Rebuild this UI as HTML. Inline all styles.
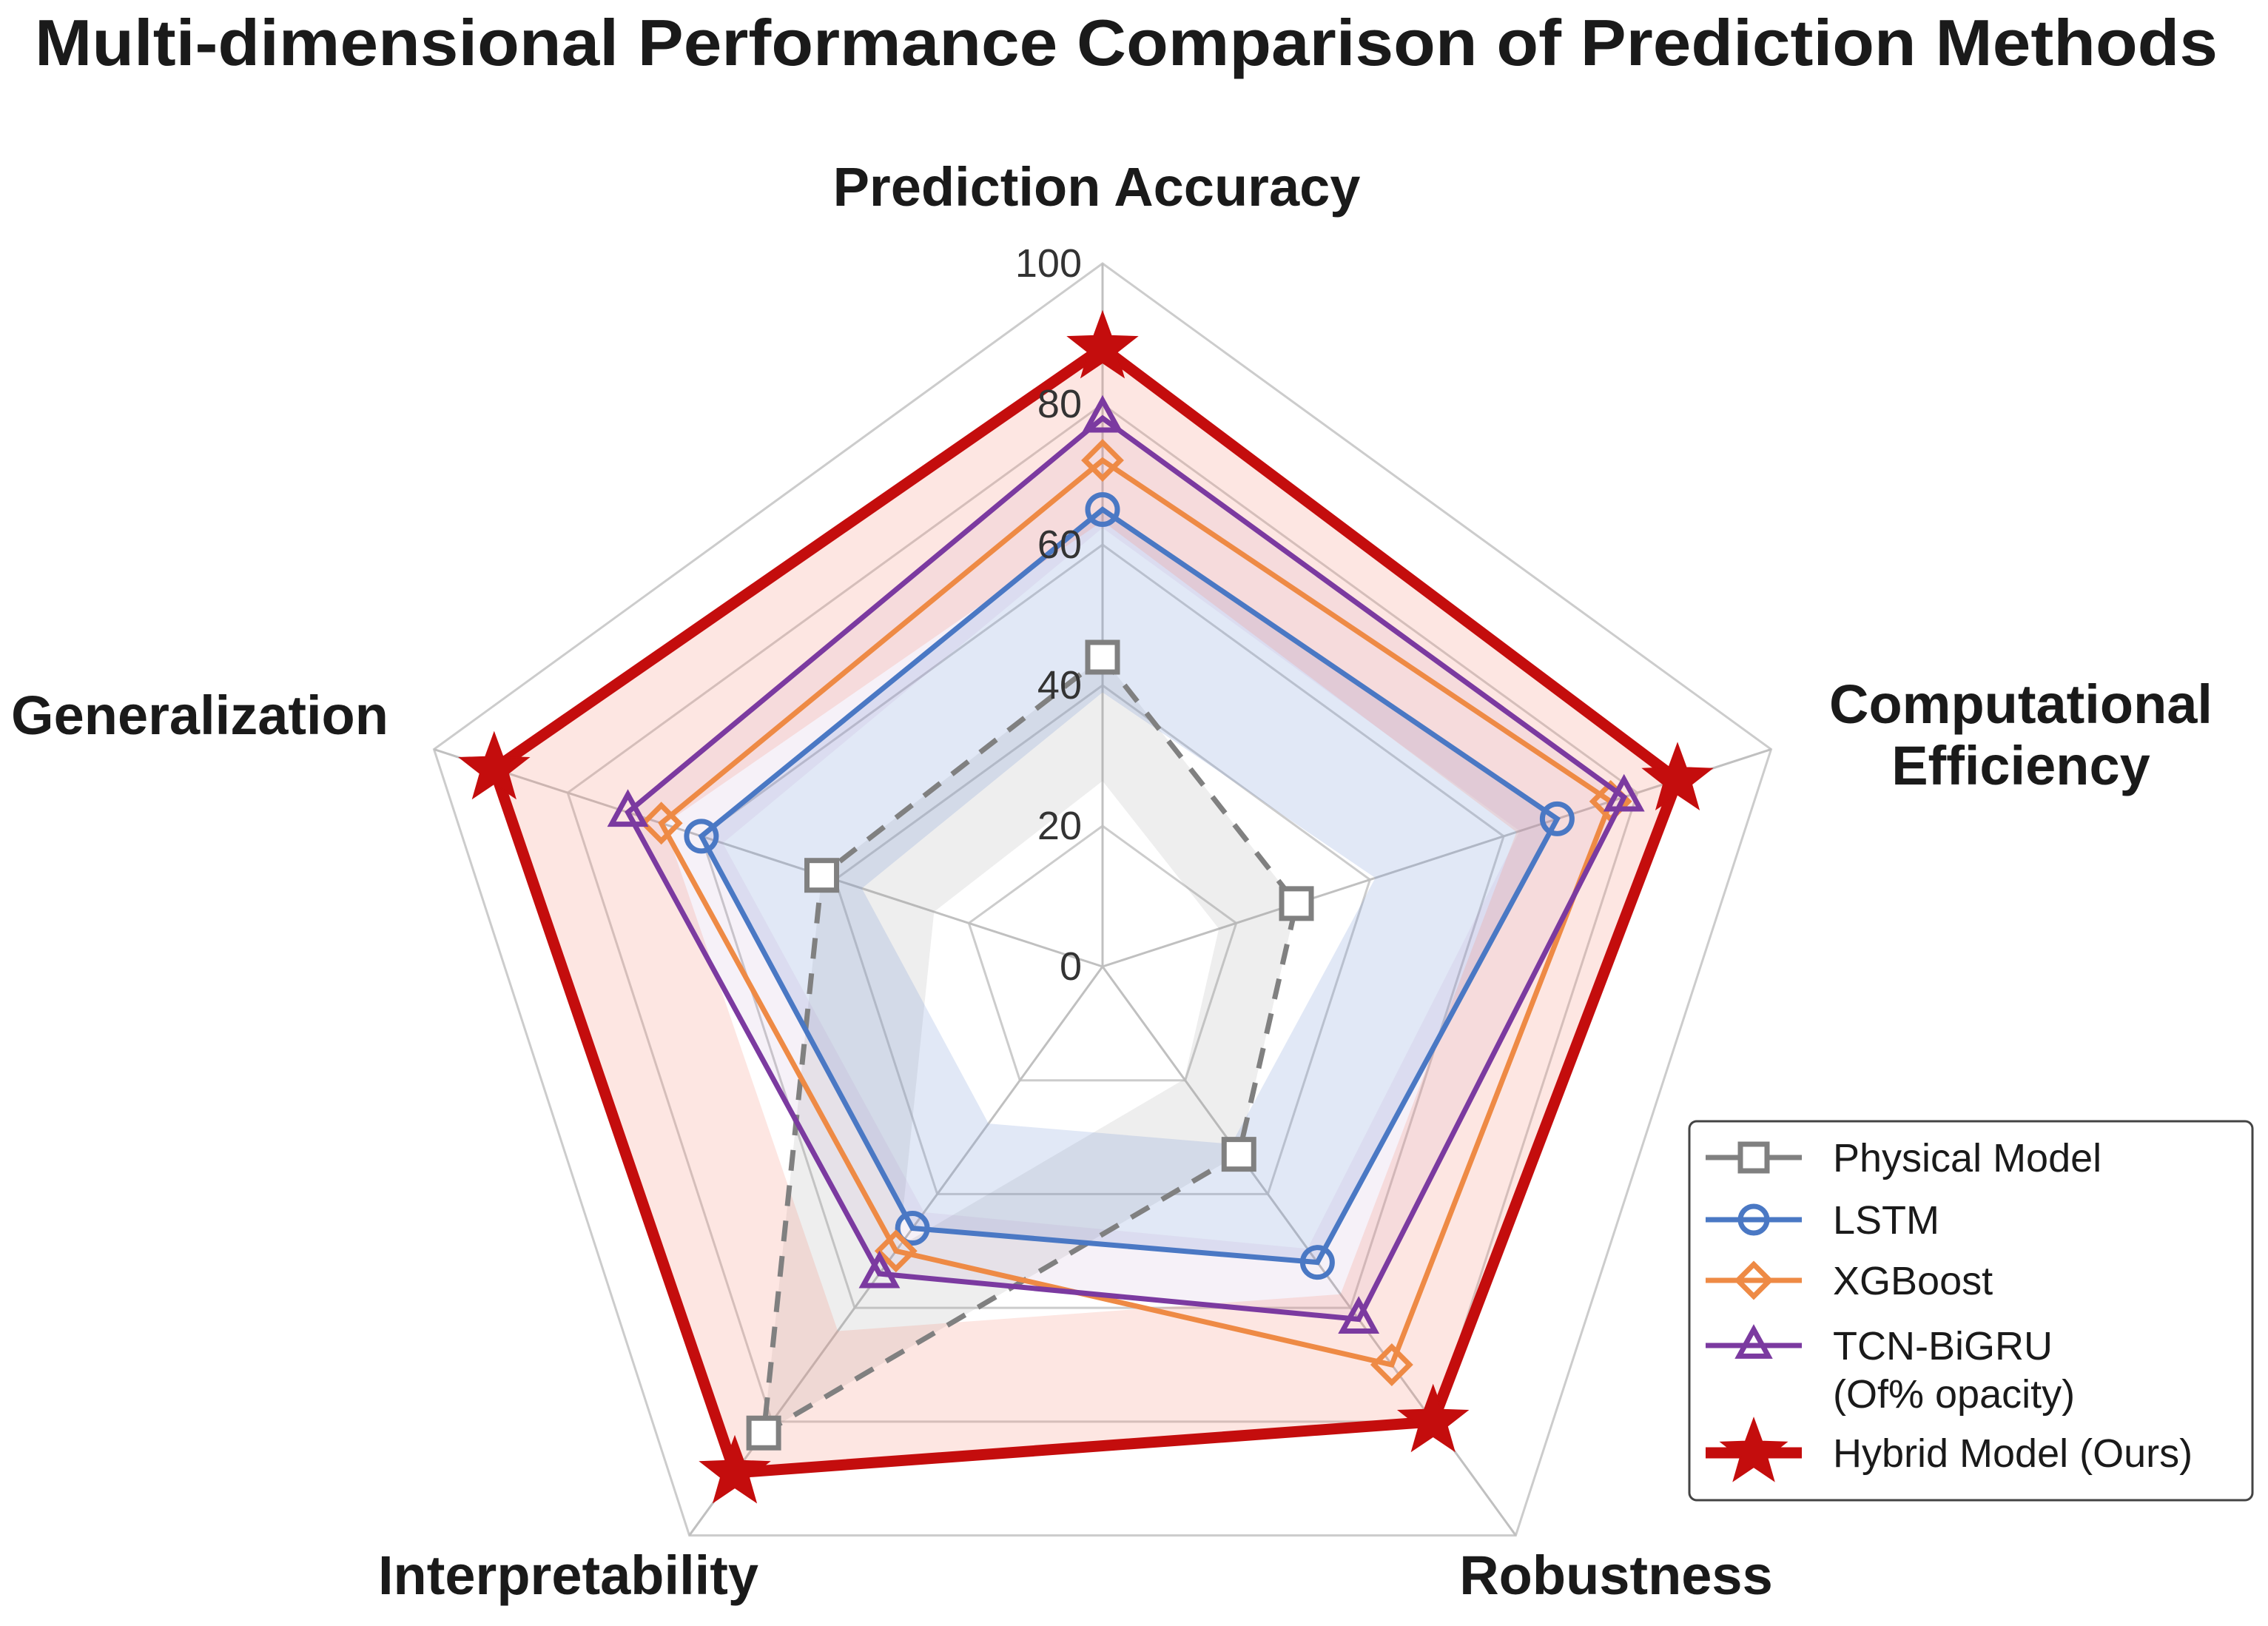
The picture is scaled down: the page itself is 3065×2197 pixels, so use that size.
<!DOCTYPE html>
<html><head><meta charset="utf-8"><style>
html,body{margin:0;padding:0;background:#fff;}
svg{display:block;font-family:"Liberation Sans",Arial,sans-serif;}
</style></head><body>
<svg id="chart" width="3065" height="2197" viewBox="0 0 3065 2197">
<text x="1522" y="88" text-anchor="middle" font-size="88" font-weight="bold" fill="#1a1a1a" textLength="2950" lengthAdjust="spacingAndGlyphs">Multi-dimensional Performance Comparison of Prediction Methods</text>
<g id="grid"></g>
<g id="series"></g>
<g id="ticks"></g>
<g id="labels">
<text x="1482" y="278" text-anchor="middle" font-size="74" font-weight="bold" fill="#1a1a1a">Prediction Accuracy</text>
<text x="2731" y="977" text-anchor="middle" font-size="74" font-weight="bold" fill="#1a1a1a"><tspan x="2731" y="977">Computational</tspan><tspan x="2731" y="1060">Efficiency</tspan></text>
<text x="270" y="992" text-anchor="middle" font-size="74" font-weight="bold" fill="#1a1a1a">Generalization</text>
<text x="768" y="2154" text-anchor="middle" font-size="74" font-weight="bold" fill="#1a1a1a">Interpretability</text>
<text x="2184" y="2154" text-anchor="middle" font-size="74" font-weight="bold" fill="#1a1a1a">Robustness</text>
</g>
<g id="legend"></g>
</svg>
<script>
const axes = ["Prediction Accuracy","Computational Efficiency","Robustness","Interpretability","Generalization"];
const ticks = [0,20,40,60,80,100];
const seriesNames = ["Physical Model","LSTM","XGBoost","TCN-BiGRU","Hybrid Model (Ours)"];
const physical = [44,29,33,82,42];
const lstm = [65,68,52,46,60];
const xgboost = [72,76,70,50,66];
const tcn = [78,78,62,54,71];
const hybrid = [88,86,80,89,91];

const NS="http://www.w3.org/2000/svg";
const cx=1490, cy=1306, R=950, maxV=100;
function pt(i,v){const a=-Math.PI/2+i*2*Math.PI/5;const r=v/maxV*R;return [cx+r*Math.cos(a),cy+r*Math.sin(a)];}
function mk(tag,attrs,parent){const e=document.createElementNS(NS,tag);for(const k in attrs)e.setAttribute(k,attrs[k]);parent.appendChild(e);return e;}
const grid=document.getElementById('grid');
ticks.forEach(t=>{ if(t===0)return;
  const p=axes.map((_,i)=>pt(i,t).join(',')).join(' ');
  const g=mk('polygon',{points:p,fill:'none',stroke:'#cccccc','stroke-width':3},grid);
  
  
});
axes.forEach((a,i)=>{const p=pt(i,100);
  const l=mk('line',{x1:cx,y1:cy,x2:p[0],y2:p[1],stroke:'#c0c0c0','stroke-width':3},grid);
  
  
});
const tg=document.getElementById('ticks');
ticks.forEach(t=>{const p=pt(0,t);
  const tx=mk('text',{x:cx-28,y:p[1]+18,'text-anchor':'end','font-size':54,fill:'#333'},tg);
  tx.textContent=t;
  
  
});
const styles=[
 {data:physical,color:'#808080',fill:'rgba(150,150,150,0.16)',inner:0.6,w:7,dash:'28 20',marker:'square'},
 {data:lstm,color:'#4a78c4',fill:'rgba(120,150,215,0.22)',inner:0.6,w:7,dash:'',marker:'circle'},
 {data:xgboost,color:'#ee8a45',fill:'rgba(0,0,0,0)',inner:0.6,w:7,dash:'',marker:'diamond'},
 {data:tcn,color:'#7b3aa0',fill:'rgba(170,120,190,0.10)',inner:0.8,w:7,dash:'',marker:'triangle'},
 {data:hybrid,color:'#c40d0d',fill:'rgba(245,140,125,0.22)',inner:0.72,w:15,dash:'',marker:'star'}
];
const sg=document.getElementById('series');
function marker(type,x,y,s,parent,color){
  let e;
  if(type==='square') e=mk('rect',{x:x-s,y:y-s,width:2*s,height:2*s,fill:'#fff',stroke:color,'stroke-width':7},parent);
  else if(type==='circle') e=mk('circle',{cx:x,cy:y,r:s,fill:'none',stroke:color,'stroke-width':7},parent);
  else if(type==='diamond') e=mk('polygon',{points:`${x},${y-s*1.2} ${x+s*1.2},${y} ${x},${y+s*1.2} ${x-s*1.2},${y}`,fill:'none',stroke:color,'stroke-width':7},parent);
  else if(type==='triangle') e=mk('polygon',{points:`${x},${y-s*1.2} ${x+s*1.1},${y+s*0.8} ${x-s*1.1},${y+s*0.8}`,fill:'none',stroke:color,'stroke-width':7},parent);
  else {let p=[];for(let k=0;k<10;k++){const r=k%2?s*0.95:s*2.3;const a=-Math.PI/2+k*Math.PI/5;p.push((x+r*Math.cos(a))+','+(y+r*Math.sin(a)));}
    e=mk('polygon',{points:p.join(' '),fill:color,stroke:color,'stroke-width':2},parent);}
  return e;
}
const fillLayer=mk('g',{},sg);


styles.forEach((s,si)=>{
  const pts=s.data.map((v,i)=>pt(i,v));
  const inn=s.data.map((v,i)=>pt(i,v*s.inner));
  const d='M'+pts.map(p=>p.join(',')).join('L')+'Z M'+inn.map(p=>p.join(',')).join('L')+'Z';
  const f=mk('path',{d:d,fill:s.fill,'fill-rule':'evenodd',stroke:'none'},fillLayer);
  
  
});
styles.forEach((s,si)=>{
  const g=mk('g',{},sg);
  
  
  const pts=s.data.map((v,i)=>pt(i,v));
  const poly=mk('polygon',{points:pts.map(p=>p.join(',')).join(' '),fill:'none',stroke:s.color,'stroke-width':s.w,'stroke-dasharray':s.dash,'stroke-linejoin':'miter'},g);
  
  
  pts.forEach((p,i)=>{const m=marker(s.marker,p[0],p[1],s.marker==='star'?21:20,g,s.color);
    
    
  });
});
// legend
const lg=document.getElementById('legend');
const box=mk('rect',{x:2283,y:1515,width:761,height:512,rx:10,fill:'#fff',stroke:'#444','stroke-width':3},lg);


const rows=[1564,1648,1730,1818,1963];
seriesNames.forEach((n,i)=>{
  const s=styles[i],y=rows[i];
  const g=mk('g',{},lg);
  
  
  mk('line',{x1:2305,y1:y,x2:2435,y2:y,stroke:s.color,'stroke-width':s.w},g);
  marker(s.marker,2370,y,s.marker==='star'?20:18,g,s.color);
  const t=mk('text',{x:2477,y:y+19,'font-size':54,fill:'#1a1a1a'},g);
  t.textContent=n;
  if(i===3){const t2=mk('text',{x:2477,y:y+84,'font-size':54,fill:'#1a1a1a'},g);t2.textContent='(Of% opacity)';}
});
</script>
</body></html>
